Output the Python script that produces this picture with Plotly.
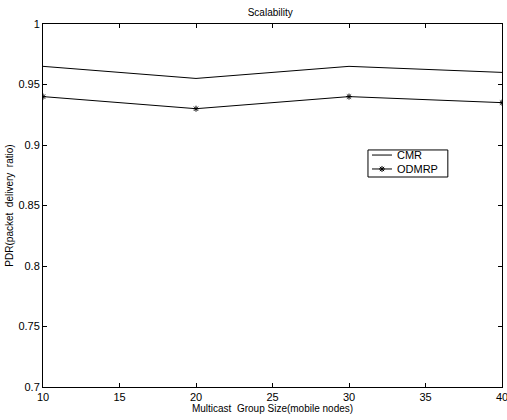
import plotly.graph_objects as go

group_size = [10, 20, 30, 40]
cmr = [0.965, 0.955, 0.965, 0.960]
odmrp = [0.940, 0.930, 0.940, 0.935]
x_ticks = [10, 15, 20, 25, 30, 35, 40]
y_ticks = [0.7, 0.75, 0.8, 0.85, 0.9, 0.95, 1]
series_names = ["CMR", "ODMRP"]

FONT = "Liberation Sans"

fig = go.Figure()
fig.add_trace(go.Scatter(x=group_size, y=cmr, mode="lines", name=series_names[0],
                         line=dict(color="black", width=1), showlegend=False))
fig.add_trace(go.Scatter(x=group_size, y=odmrp, mode="lines+markers", name=series_names[1],
                         line=dict(color="black", width=1), showlegend=False,
                         marker=dict(symbol="asterisk-open", size=5, color="black",
                                     line=dict(color="black", width=1))))

# compact MATLAB-style legend drawn in paper coordinates
lx0, lx1, ly0, ly1 = 0.708, 0.882, 0.5785, 0.653
line_x0, line_x1, text_x = 0.7168, 0.7603, 0.767
row_y = [0.639, 0.6006]
fig.add_shape(type="rect", xref="paper", yref="paper", x0=lx0, x1=lx1, y0=ly0, y1=ly1,
              line=dict(color="black", width=1), fillcolor="white", layer="below")
for name, ry in zip(series_names, row_y):
    fig.add_shape(type="line", xref="paper", yref="paper", x0=line_x0, x1=line_x1, y0=ry, y1=ry,
                  line=dict(color="black", width=1), layer="below")
    fig.add_annotation(xref="paper", yref="paper", x=text_x, y=ry, text=name, showarrow=False,
                       xanchor="left", yanchor="middle",
                       font=dict(family=FONT, size=11, color="black"))
# legend marker on an invisible overlay axis spanning the plot area
fig.add_trace(go.Scatter(x=[(line_x0 + line_x1) / 2], y=[row_y[1]], xaxis="x2", yaxis="y2",
                         mode="markers", showlegend=False, hoverinfo="skip",
                         marker=dict(symbol="asterisk-open", size=5, color="black",
                                     line=dict(color="black", width=1))))

axis_common = dict(showgrid=False, zeroline=False, showline=True, mirror="ticks",
                   linecolor="black", linewidth=1, ticks="inside", ticklen=4,
                   tickcolor="black", ticklabeloverflow="allow", automargin=False,
                   tickfont=dict(family=FONT, size=11, color="black"))

fig.update_layout(
    width=507, height=420,
    margin=dict(l=43, r=5, t=24, b=33),
    paper_bgcolor="white", plot_bgcolor="white",
    showlegend=False,
    title=dict(text="Scalability", x=0.533, xanchor="center", y=0.97, yanchor="middle",
               font=dict(family=FONT, size=10, color="black")),
    xaxis=dict(range=[10, 40], tickvals=x_ticks, ticktext=[str(v) for v in x_ticks],
               title=dict(text="Multicast  Group Size(mobile nodes)", standoff=0,
                          font=dict(family=FONT, size=10, color="black")),
               **axis_common),
    yaxis=dict(range=[0.7, 1], tickvals=y_ticks, ticktext=[str(v) for v in y_ticks],
               title=dict(text="PDR(packet  delivery  ratio)", standoff=2,
                          font=dict(family=FONT, size=10, color="black")),
               **axis_common),
    xaxis2=dict(overlaying="x", range=[0, 1], visible=False, fixedrange=True),
    yaxis2=dict(overlaying="y", range=[0, 1], visible=False, fixedrange=True),
)

fig.write_html("out.html")
